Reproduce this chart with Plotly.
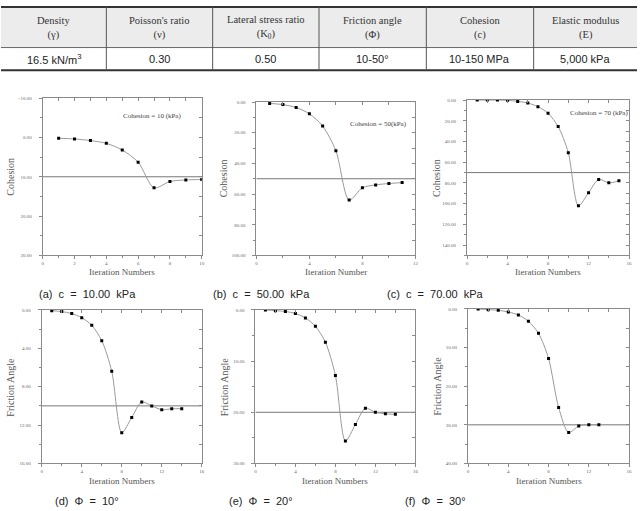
import plotly.graph_objects as go

W, H = 640, 511

# ---------------- data ----------------
table_headers = ["Density<br>(γ)", "Poisson's ratio<br>(ν)", "Lateral stress ratio<br>(K<sub>0</sub>)",
                 "Friction angle<br>(Φ)", "Cohesion<br>(c)", "Elastic modulus<br>(E)"]
table_values = ["16.5 kN/m<sup>3</sup>", "0.30", "0.50", "10-50°", "10-150 MPa", "5,000 kPa"]

iter_a = [1, 2, 3, 4, 5, 6, 7, 8, 9, 10]
cohesion_a = [0.2, 0.4, 0.8, 1.5, 3.2, 6.3, 12.8, 11.2, 10.8, 10.7]
iter_b = [1, 2, 3, 4, 5, 6, 7, 8, 9, 10, 11]
cohesion_b = [0.9, 1.7, 3.6, 7.7, 15.7, 31.8, 63.9, 55.9, 54.0, 53.1, 52.5]
iter_c = [1, 2, 3, 4, 5, 6, 7, 8, 9, 10, 11, 12, 13, 14, 15]
cohesion_c = [0.0, 0.0, 0.0, 0.3, 1.3, 2.9, 6.4, 12.8, 25.6, 50.8, 102.0, 89.4, 76.6, 79.9, 78.0]
iter_d = [1, 2, 3, 4, 5, 6, 7, 8, 9, 10, 11, 12, 13, 14]
friction_d = [0.07, 0.17, 0.38, 0.8, 1.6, 3.2, 6.4, 12.8, 11.2, 9.6, 10.0, 10.4, 10.3, 10.3]
iter_e = [1, 2, 3, 4, 5, 6, 7, 8, 9, 10, 11, 12, 13, 14]
friction_e = [0.0, 0.13, 0.3, 0.7, 1.55, 3.2, 6.3, 12.8, 25.6, 22.4, 19.2, 20.0, 20.3, 20.4]
iter_f = [1, 2, 3, 4, 5, 6, 7, 8, 9, 10, 11, 12, 13]
friction_f = [0.0, 0.17, 0.34, 0.8, 1.55, 3.2, 6.3, 12.8, 25.5, 32.0, 30.3, 30.0, 30.0]
target_values = [10, 50, 70, 10, 20, 30]

series_x = [iter_a, iter_b, iter_c, iter_d, iter_e, iter_f]
series_y = [cohesion_a, cohesion_b, cohesion_c, friction_d, friction_e, friction_f]
y_titles = ["Cohesion", "Cohesion", "Cohesion", "Friction Angle", "Friction Angle", "Friction Angle"]
x_titles = ["Iteration Numbers", "Iteration Number", "Iteration Numbers",
            "Iteration Numbers", "Iteration Numbers", "Iteration Numbers"]
notes = ["Cohesion = 10 (kPa)", "Cohesion = 50(kPa)", "Cohesion = 70 (kPa)", None, None, None]
captions = ["(a)  c  =  10.00  kPa", "(b)  c  =  50.00  kPa", "(c)  c  =  70.00  kPa",
            "(d)  Φ  =  10°", "(e)  Φ  =  20°", "(f)  Φ  =  30°"]

# ---------------- layout config (pixels) ----------------
boxes = [(42, 202, 97, 256), (257, 417, 101, 256), (469, 632, 99, 256),
         (41, 202, 311, 466), (256, 417, 311, 466), (470, 632, 310, 466)]
xranges = [(0, 10), (0, 12), (0, 16), (0, 16), (0, 16), (0, 16)]
yranges = [(-10, 30), (0, 100), (0, 150), (0, 16), (0, 30), (0, 40)]
xdt = [(2, 1), (4, 2), (4, 2), (4, 2), (4, 2), (4, 2)]
ydt = [(10, 5), (20, 10), (20, 10), (4, 2), (10, 5), (10, 5)]
ytitle_x = [10, 224, 439, 10, 225, 439]
xtitle_y = [273, 273, 273, 484, 484, 484]
note_pos = [(152, 115), (380, 123), (602, 112)]
caption_pos = [(87, 295), (262, 295), (437, 295), (87, 504), (262, 504), (437, 504)]


def fx(p):
    return p / W


def fy(p):
    return 1 - p / H


def ann(x, y, text, font, **kw):
    d = dict(x=fx(x), y=fy(y), xref="paper", yref="paper", text=text, showarrow=False,
             xanchor="center", yanchor="middle", font=font)
    d.update(kw)
    return d


AX = "#8a8a8a"
SERIF = "Liberation Serif, Times New Roman, serif"
SANS = "Liberation Sans, Arial, sans-serif"

fig = go.Figure()
layout = dict(width=W, height=H, margin=dict(l=0, r=0, t=0, b=0),
              paper_bgcolor="white", plot_bgcolor="white", showlegend=False)
annotations = []
shapes = []

for i in range(6):
    n = i + 1
    m = i + 7
    x0, x1, y0, y1 = boxes[i]
    xa = "x" if n == 1 else f"x{n}"
    ya = "y" if n == 1 else f"y{n}"
    xmin, xmax = xranges[i]
    ymin, ymax = yranges[i]
    common = dict(showgrid=False, zeroline=False, linecolor=AX, linewidth=1,
                  tickcolor=AX, ticklen=3, tickwidth=1,
                  tickfont=dict(family=SERIF, size=5, color="#666"))
    layout[f"xaxis{n}"] = dict(domain=[fx(x0), fx(x1)], anchor=ya, range=[xmin, xmax],
                               dtick=xdt[i][0], tick0=0, ticks="outside", showline=True,
                               minor=dict(dtick=xdt[i][1], ticks="outside", ticklen=2, tickcolor=AX),
                               **common)
    layout[f"yaxis{n}"] = dict(domain=[fy(y1), fy(y0)], anchor=xa, range=[ymax, ymin],
                               dtick=ydt[i][0], tick0=0, ticks="outside", showline=True,
                               tickformat=".2f", ticklabelstandoff=6,
                               minor=dict(dtick=ydt[i][1], ticks="outside", ticklen=2, tickcolor=AX),
                               **common)
    layout[f"xaxis{m}"] = dict(overlaying=xa, anchor=ya, side="top", range=[xmin, xmax],
                               dtick=xdt[i][1], tick0=0, ticks="inside", showticklabels=False,
                               showline=True, showgrid=False, zeroline=False, linecolor=AX,
                               tickcolor=AX, ticklen=3)
    layout[f"yaxis{m}"] = dict(overlaying=ya, anchor=xa, side="right", range=[ymax, ymin],
                               dtick=ydt[i][1], tick0=0, ticks="inside", showticklabels=False,
                               showline=True, showgrid=False, zeroline=False, linecolor=AX,
                               tickcolor=AX, ticklen=3)
    fig.add_trace(go.Scatter(x=[xmin], y=[ymin], xaxis=f"x{m}", yaxis=f"y{m}",
                             mode="markers", marker=dict(opacity=0), hoverinfo="skip"))
    fig.add_trace(go.Scatter(x=[xmin, xmax], y=[target_values[i], target_values[i]],
                             xaxis=xa, yaxis=ya, mode="lines",
                             line=dict(color="#777", width=1), hoverinfo="skip"))
    fig.add_trace(go.Scatter(x=series_x[i], y=series_y[i], xaxis=xa, yaxis=ya,
                             mode="lines+markers",
                             line=dict(color="#9a9a9a", width=1, shape="spline", smoothing=0.8),
                             marker=dict(symbol="square", size=3, color="black")))
    annotations.append(ann(ytitle_x[i], (y0 + y1) / 2, y_titles[i],
                           dict(family=SERIF, size=10, color="#555"), textangle=-90))
    annotations.append(ann((x0 + x1) / 2, xtitle_y[i], x_titles[i],
                           dict(family=SERIF, size=9, color="#555")))
    if notes[i]:
        annotations.append(ann(note_pos[i][0], note_pos[i][1], notes[i],
                               dict(family=SERIF, size=7, color="#444")))
    annotations.append(ann(caption_pos[i][0], caption_pos[i][1], captions[i],
                           dict(family=SANS, size=11, color="#222")))

# ---------------- table ----------------
col_edges = [0, 106, 213, 320, 428, 536, 640]
t_top, t_mid, t_bot = 5, 46, 69
shapes.append(dict(type="rect", xref="paper", yref="paper", x0=0, x1=1, y0=fy(t_mid), y1=fy(t_top),
                   fillcolor="#ececec", line=dict(width=0), layer="below"))
for yy, w in [(t_top, 2), (t_mid, 1), (t_bot, 2)]:
    shapes.append(dict(type="line", xref="paper", yref="paper", x0=0, x1=1, y0=fy(yy), y1=fy(yy),
                       line=dict(color="#333" if w == 2 else "#666", width=w)))
for xe in col_edges[1:-1]:
    shapes.append(dict(type="line", xref="paper", yref="paper", x0=fx(xe), x1=fx(xe),
                       y0=fy(t_top), y1=fy(t_bot), line=dict(color="#555", width=1)))
for j in range(6):
    cx = (col_edges[j] + col_edges[j + 1]) / 2
    annotations.append(ann(cx, (t_top + t_mid) / 2 + 0.5, table_headers[j],
                           dict(family=SERIF, size=10.5, color="#333")))
    annotations.append(ann(cx, (t_mid + t_bot) / 2 + 0.5, table_values[j],
                           dict(family=SANS, size=11, color="#222")))

layout["annotations"] = annotations
layout["shapes"] = shapes
fig.update_layout(**layout)
fig.write_html("out.html")
